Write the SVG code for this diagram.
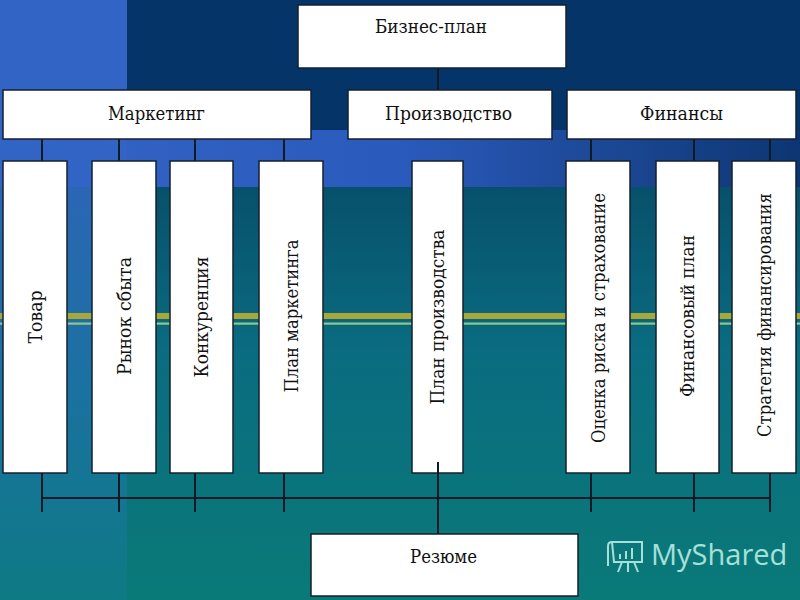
<svg xmlns="http://www.w3.org/2000/svg" width="800" height="600" viewBox="0 0 800 600">
<defs>
<linearGradient id="band" x1="0" y1="0" x2="1" y2="0">
<stop offset="0" stop-color="#3264c6"/>
<stop offset="0.5" stop-color="#2a5abc"/>
<stop offset="0.75" stop-color="#1d4896"/>
<stop offset="1" stop-color="#0c3672"/>
</linearGradient>
<linearGradient id="teal" x1="0" y1="0" x2="0" y2="1">
<stop offset="0" stop-color="#07506c"/>
<stop offset="0.4" stop-color="#0a6c80"/>
<stop offset="1" stop-color="#0a7a78"/>
</linearGradient>
<linearGradient id="leftcol" x1="0" y1="0" x2="0" y2="1">
<stop offset="0" stop-color="#2b66b4"/>
<stop offset="0.5" stop-color="#1a72a0"/>
<stop offset="1" stop-color="#0e7a84"/>
</linearGradient>
<style>
.box{fill:#ffffff;stroke:#14202e;stroke-width:1.5}
.t{font-family:"DejaVu Serif","Liberation Serif",serif;font-size:19px;fill:#111111;text-anchor:middle}
.v{font-family:"DejaVu Serif","Liberation Serif",serif;font-size:18px;fill:#111111;text-anchor:middle;dominant-baseline:central}
.c{stroke:#0f1a26;stroke-width:2;fill:none}
</style>
</defs>
<g id="background">
<rect x="0" y="0" width="800" height="600" fill="#053468"/>
<rect x="0" y="130" width="800" height="57" fill="url(#band)"/>
<rect x="0" y="187" width="800" height="413" fill="url(#teal)"/>
<rect x="0" y="0" width="127" height="187" fill="#3264c6"/>
<rect x="0" y="187" width="127" height="413" fill="url(#leftcol)"/>
<rect x="0" y="313" width="800" height="6" fill="#a8a83a"/>
<rect x="0" y="322.5" width="800" height="2.2" fill="#8ec88a"/>
</g>
<g id="connectors">
<line class="c" x1="438" y1="68" x2="438" y2="90"/>
<line class="c" x1="42" y1="139" x2="42" y2="161"/>
<line class="c" x1="119" y1="139" x2="119" y2="161"/>
<line class="c" x1="195" y1="139" x2="195" y2="161"/>
<line class="c" x1="284" y1="139" x2="284" y2="161"/>
<line class="c" x1="591" y1="139" x2="591" y2="161"/>
<line class="c" x1="694" y1="139" x2="694" y2="161"/>
<line class="c" x1="770" y1="139" x2="770" y2="161"/>
<line class="c" x1="42" y1="473" x2="42" y2="512"/>
<line class="c" x1="119" y1="473" x2="119" y2="512"/>
<line class="c" x1="195" y1="473" x2="195" y2="512"/>
<line class="c" x1="284" y1="473" x2="284" y2="512"/>
<line class="c" x1="591" y1="473" x2="591" y2="512"/>
<line class="c" x1="694" y1="473" x2="694" y2="512"/>
<line class="c" x1="770" y1="473" x2="770" y2="512"/>
<line class="c" x1="42" y1="498" x2="770" y2="498"/>
</g>
<g id="n-biznes-plan"><rect class="box" x="298" y="5" width="268" height="63"/><text class="t" x="431" y="33" textLength="112" lengthAdjust="spacingAndGlyphs">Бизнес-план</text></g>
<g id="n-marketing"><rect class="box" x="3" y="90" width="308" height="49"/><text class="t" x="156.5" y="120" textLength="97" lengthAdjust="spacingAndGlyphs">Маркетинг</text></g>
<g id="n-proizvodstvo"><rect class="box" x="348" y="90" width="204" height="49"/><text class="t" x="448.5" y="120" textLength="127" lengthAdjust="spacingAndGlyphs">Производство</text></g>
<g id="n-finansy"><rect class="box" x="567" y="90" width="229" height="49"/><text class="t" x="681.5" y="120" textLength="83" lengthAdjust="spacingAndGlyphs">Финансы</text></g>
<g id="n-tovar"><rect class="box" x="3" y="161" width="64" height="312"/><text class="v" transform="translate(35,317) rotate(-90)" textLength="53" lengthAdjust="spacingAndGlyphs">Товар</text></g>
<g id="n-rynok"><rect class="box" x="92" y="161" width="64" height="312"/><text class="v" transform="translate(124,316) rotate(-90)" textLength="118" lengthAdjust="spacingAndGlyphs">Рынок сбыта</text></g>
<g id="n-konkurenciya"><rect class="box" x="170" y="161" width="63" height="312"/><text class="v" transform="translate(201.5,317) rotate(-90)" textLength="121" lengthAdjust="spacingAndGlyphs">Конкуренция</text></g>
<g id="n-plan-marketinga"><rect class="box" x="259" y="161" width="64" height="312"/><text class="v" transform="translate(291,316) rotate(-90)" textLength="153" lengthAdjust="spacingAndGlyphs">План маркетинга</text></g>
<g id="n-plan-proizvodstva"><rect class="box" x="412" y="161" width="51" height="312"/><text class="v" transform="translate(437.5,317) rotate(-90)" textLength="175" lengthAdjust="spacingAndGlyphs">План производства</text></g>
<g id="n-ocenka"><rect class="box" x="566" y="161" width="64" height="312"/><text class="v" transform="translate(598,318) rotate(-90)" textLength="250" lengthAdjust="spacingAndGlyphs">Оценка риска и страхование</text></g>
<g id="n-fin-plan"><rect class="box" x="656" y="161" width="63" height="312"/><text class="v" transform="translate(687.5,316) rotate(-90)" textLength="162" lengthAdjust="spacingAndGlyphs">Финансовый план</text></g>
<g id="n-strategiya"><rect class="box" x="732" y="161" width="64" height="312"/><text class="v" transform="translate(764,315) rotate(-90)" textLength="244" lengthAdjust="spacingAndGlyphs">Стратегия финансирования</text></g>
<g id="connector-resume"><line class="c" x1="438" y1="462" x2="438" y2="534"/></g>
<g id="n-rezyume"><rect class="box" x="311" y="534" width="267" height="62"/><text class="t" x="443.5" y="563" textLength="67" lengthAdjust="spacingAndGlyphs">Резюме</text></g>
<g id="watermark" fill="none" stroke="#a6e0da" stroke-width="2">
<path d="M612 542 h30 v20 h-28 z"/>
<path d="M612 542 q-4 0 -4 4 v20"/>
<line x1="620" y1="559" x2="620" y2="554"/>
<line x1="626" y1="559" x2="626" y2="551"/>
<line x1="632" y1="559" x2="632" y2="548"/>
<line x1="628" y1="562" x2="628" y2="572"/>
<line x1="622" y1="562" x2="618" y2="572"/>
<line x1="634" y1="562" x2="638" y2="572"/>
<text x="651" y="565" font-family="'Open Sans','Noto Sans',sans-serif" font-size="29" fill="#a6e0da" stroke="none">MyShared</text>
</g>
</svg>
